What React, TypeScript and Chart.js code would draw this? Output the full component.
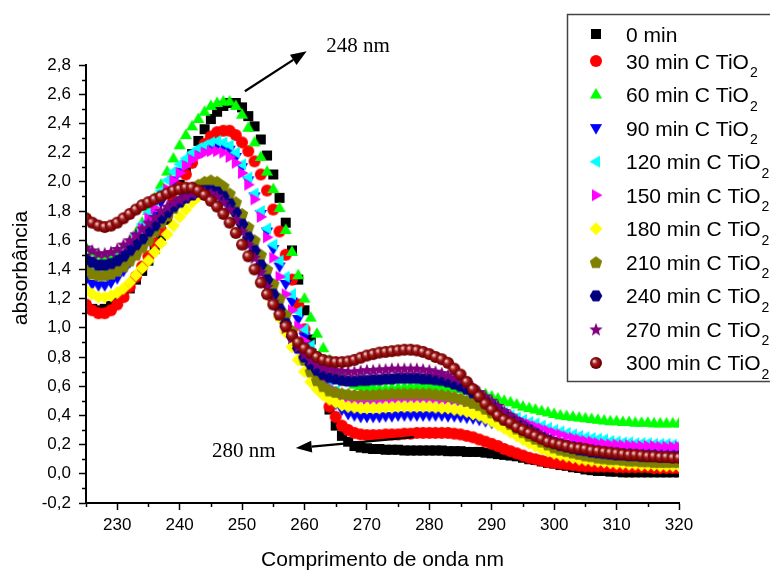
import React, { useEffect, useRef } from "react";
import { Chart, registerables } from "chart.js";
Chart.register(...registerables);

// wavelength (nm)
const wavelengths = [
  225, 226, 227, 228, 229, 230, 231, 232, 233, 234, 235, 236, 237, 238, 239, 240, 241, 242, 243, 244,
  245, 246, 247, 248, 249, 250, 251, 252, 253, 254, 255, 256, 257, 258, 259, 260, 261, 262, 263, 264,
  265, 266, 267, 268, 269, 270, 271, 272, 273, 274, 275, 276, 277, 278, 279, 280, 281, 282, 283, 284,
  285, 286, 287, 288, 289, 290, 291, 292, 293, 294, 295, 296, 297, 298, 299, 300, 301, 302, 303, 304,
  305, 306, 307, 308, 309, 310, 311, 312, 313, 314, 315, 316, 317, 318, 319, 320,
];

const abs0min = [
  1.15, 1.13, 1.12, 1.13, 1.15, 1.18, 1.22, 1.27, 1.33, 1.39, 1.46, 1.54, 1.63, 1.74, 1.86, 1.98, 2.09, 2.19, 2.28, 2.36,
  2.43, 2.48, 2.52, 2.54, 2.54, 2.51, 2.45, 2.38, 2.29, 2.18, 2.05, 1.89, 1.72, 1.53, 1.33, 1.12, 0.92, 0.74, 0.57, 0.44,
  0.33, 0.26, 0.22, 0.19, 0.18, 0.175, 0.17, 0.17, 0.165, 0.165, 0.165, 0.16, 0.16, 0.16, 0.16, 0.16, 0.16, 0.16, 0.155, 0.155,
  0.155, 0.15, 0.15, 0.15, 0.145, 0.14, 0.135, 0.13, 0.125, 0.12, 0.11, 0.1, 0.095, 0.085, 0.075, 0.07, 0.06, 0.055, 0.045, 0.04,
  0.03, 0.025, 0.02, 0.02, 0.015, 0.015, 0.01, 0.01, 0.01, 0.01, 0.01, 0.01, 0.01, 0.01, 0.01, 0.01,
];
const abs30min = [
  1.16, 1.12, 1.1, 1.1, 1.12, 1.16, 1.21, 1.28, 1.35, 1.42, 1.49, 1.58, 1.67, 1.77, 1.87, 1.96, 2.05, 2.13, 2.2, 2.26,
  2.31, 2.34, 2.35, 2.35, 2.32, 2.27, 2.21, 2.14, 2.05, 1.94, 1.81, 1.66, 1.5, 1.33, 1.16, 0.99, 0.83, 0.68, 0.56, 0.46,
  0.39, 0.33, 0.3, 0.28, 0.27, 0.265, 0.265, 0.265, 0.27, 0.27, 0.27, 0.275, 0.275, 0.28, 0.28, 0.28, 0.28, 0.28, 0.28, 0.275,
  0.27, 0.26, 0.25, 0.235, 0.22, 0.205, 0.19, 0.17, 0.155, 0.14, 0.125, 0.11, 0.1, 0.09, 0.08, 0.075, 0.07, 0.065, 0.06, 0.055,
  0.05, 0.05, 0.05, 0.05, 0.05, 0.045, 0.045, 0.045, 0.045, 0.045, 0.045, 0.04, 0.04, 0.04, 0.04, 0.04,
];
const abs60min = [
  1.55, 1.52, 1.5, 1.49, 1.5, 1.52, 1.55, 1.59, 1.65, 1.72, 1.8, 1.89, 1.98, 2.07, 2.16, 2.25, 2.32, 2.38, 2.43, 2.48,
  2.52, 2.54, 2.55, 2.55, 2.52, 2.46, 2.37, 2.27, 2.17, 2.07, 1.95, 1.82, 1.67, 1.52, 1.36, 1.2, 1.07, 0.96, 0.86, 0.78,
  0.71, 0.66, 0.63, 0.61, 0.6, 0.59, 0.59, 0.585, 0.585, 0.59, 0.59, 0.595, 0.6, 0.6, 0.6, 0.6, 0.6, 0.595, 0.59, 0.585,
  0.58, 0.57, 0.565, 0.555, 0.545, 0.53, 0.515, 0.5, 0.49, 0.475, 0.46, 0.45, 0.44, 0.43, 0.42, 0.41, 0.4, 0.395, 0.39, 0.385,
  0.38, 0.375, 0.37, 0.365, 0.36, 0.36, 0.355, 0.355, 0.35, 0.35, 0.35, 0.345, 0.345, 0.345, 0.345, 0.345,
];
const abs90min = [
  1.33, 1.3, 1.29, 1.29, 1.31, 1.34, 1.39, 1.45, 1.52, 1.6, 1.68, 1.77, 1.86, 1.94, 2.01, 2.07, 2.12, 2.16, 2.2, 2.22,
  2.24, 2.25, 2.24, 2.22, 2.17, 2.1, 2.01, 1.9, 1.78, 1.66, 1.54, 1.42, 1.3, 1.18, 1.06, 0.94, 0.83, 0.72, 0.62, 0.54,
  0.48, 0.44, 0.41, 0.4, 0.39, 0.39, 0.39, 0.39, 0.395, 0.395, 0.4, 0.4, 0.4, 0.4, 0.4, 0.4, 0.4, 0.4, 0.395, 0.395,
  0.39, 0.385, 0.38, 0.37, 0.36, 0.35, 0.34, 0.325, 0.31, 0.295, 0.28, 0.27, 0.26, 0.245, 0.235, 0.225, 0.215, 0.205, 0.2, 0.195,
  0.19, 0.185, 0.18, 0.175, 0.175, 0.17, 0.17, 0.165, 0.165, 0.165, 0.165, 0.16, 0.16, 0.16, 0.16, 0.16,
];
const abs120min = [
  1.45, 1.42, 1.41, 1.41, 1.43, 1.46, 1.51, 1.57, 1.64, 1.71, 1.79, 1.87, 1.94, 2.01, 2.07, 2.12, 2.16, 2.2, 2.23, 2.25,
  2.27, 2.28, 2.27, 2.25, 2.2, 2.12, 2.03, 1.92, 1.8, 1.68, 1.57, 1.46, 1.35, 1.23, 1.11, 0.99, 0.88, 0.78, 0.69, 0.62,
  0.57, 0.54, 0.525, 0.52, 0.515, 0.515, 0.515, 0.515, 0.52, 0.52, 0.52, 0.52, 0.52, 0.52, 0.52, 0.52, 0.515, 0.515, 0.51, 0.505,
  0.5, 0.495, 0.49, 0.48, 0.465, 0.45, 0.435, 0.42, 0.4, 0.385, 0.37, 0.355, 0.345, 0.33, 0.315, 0.3, 0.29, 0.28, 0.27, 0.26,
  0.25, 0.245, 0.24, 0.235, 0.225, 0.22, 0.215, 0.215, 0.21, 0.21, 0.21, 0.205, 0.205, 0.205, 0.2, 0.2,
];
const abs150min = [
  1.47, 1.45, 1.43, 1.43, 1.44, 1.47, 1.51, 1.56, 1.62, 1.68, 1.75, 1.82, 1.89, 1.95, 2.01, 2.06, 2.11, 2.15, 2.18, 2.2,
  2.21, 2.21, 2.2, 2.17, 2.13, 2.06, 1.98, 1.88, 1.76, 1.62, 1.48, 1.35, 1.23, 1.12, 1.01, 0.91, 0.82, 0.73, 0.65, 0.59,
  0.55, 0.53, 0.515, 0.51, 0.51, 0.51, 0.51, 0.51, 0.515, 0.515, 0.52, 0.52, 0.52, 0.52, 0.52, 0.515, 0.515, 0.51, 0.51, 0.505,
  0.5, 0.49, 0.48, 0.47, 0.455, 0.44, 0.42, 0.405, 0.39, 0.37, 0.355, 0.34, 0.325, 0.31, 0.295, 0.28, 0.27, 0.255, 0.245, 0.235,
  0.225, 0.22, 0.21, 0.205, 0.2, 0.2, 0.195, 0.195, 0.19, 0.19, 0.19, 0.19, 0.185, 0.185, 0.185, 0.185,
];
const abs180min = [
  1.26, 1.23, 1.21, 1.21, 1.22, 1.24, 1.27, 1.31, 1.36, 1.41, 1.46, 1.52, 1.58, 1.64, 1.7, 1.76, 1.81, 1.86, 1.9, 1.92,
  1.93, 1.92, 1.89, 1.85, 1.78, 1.7, 1.61, 1.51, 1.4, 1.29, 1.18, 1.07, 0.97, 0.87, 0.78, 0.7, 0.63, 0.58, 0.54, 0.51,
  0.49, 0.47, 0.46, 0.455, 0.45, 0.45, 0.45, 0.45, 0.455, 0.455, 0.46, 0.46, 0.46, 0.46, 0.46, 0.46, 0.455, 0.45, 0.45, 0.44,
  0.435, 0.425, 0.41, 0.4, 0.38, 0.36, 0.335, 0.31, 0.285, 0.26, 0.235, 0.21, 0.19, 0.17, 0.155, 0.14, 0.13, 0.12, 0.11, 0.1,
  0.095, 0.09, 0.085, 0.08, 0.075, 0.07, 0.07, 0.065, 0.065, 0.06, 0.06, 0.06, 0.055, 0.055, 0.055, 0.055,
];
const abs210min = [
  1.4, 1.37, 1.36, 1.36, 1.37, 1.39, 1.42, 1.46, 1.5, 1.55, 1.6, 1.66, 1.72, 1.77, 1.82, 1.87, 1.91, 1.95, 1.98, 2.0,
  2.01, 2.0, 1.97, 1.92, 1.86, 1.78, 1.69, 1.6, 1.5, 1.4, 1.3, 1.2, 1.09, 0.98, 0.88, 0.78, 0.7, 0.64, 0.6, 0.57,
  0.56, 0.55, 0.545, 0.54, 0.54, 0.54, 0.54, 0.545, 0.545, 0.55, 0.55, 0.55, 0.55, 0.55, 0.55, 0.55, 0.545, 0.54, 0.535, 0.525,
  0.515, 0.5, 0.485, 0.47, 0.445, 0.42, 0.395, 0.37, 0.34, 0.31, 0.285, 0.26, 0.24, 0.22, 0.2, 0.18, 0.165, 0.155, 0.145, 0.135,
  0.125, 0.12, 0.11, 0.105, 0.1, 0.1, 0.095, 0.09, 0.09, 0.085, 0.085, 0.08, 0.08, 0.08, 0.08, 0.08,
];
const abs240min = [
  1.47, 1.45, 1.43, 1.43, 1.44, 1.46, 1.49, 1.53, 1.57, 1.61, 1.66, 1.7, 1.75, 1.79, 1.83, 1.86, 1.89, 1.91, 1.93, 1.94,
  1.94, 1.93, 1.9, 1.85, 1.79, 1.71, 1.62, 1.53, 1.43, 1.33, 1.23, 1.13, 1.03, 0.94, 0.86, 0.8, 0.75, 0.71, 0.68, 0.66,
  0.65, 0.64, 0.635, 0.635, 0.64, 0.64, 0.645, 0.645, 0.65, 0.65, 0.655, 0.655, 0.655, 0.655, 0.65, 0.65, 0.645, 0.64, 0.63, 0.615,
  0.6, 0.58, 0.555, 0.53, 0.5, 0.47, 0.44, 0.41, 0.38, 0.35, 0.325, 0.3, 0.275, 0.25, 0.23, 0.21, 0.195, 0.185, 0.175, 0.165,
  0.16, 0.15, 0.145, 0.14, 0.135, 0.13, 0.13, 0.125, 0.125, 0.12, 0.12, 0.12, 0.115, 0.115, 0.115, 0.115,
];
const abs270min = [
  1.55, 1.53, 1.51, 1.51, 1.52, 1.54, 1.57, 1.6, 1.64, 1.68, 1.72, 1.76, 1.8, 1.83, 1.86, 1.88, 1.9, 1.92, 1.93, 1.93,
  1.92, 1.9, 1.86, 1.81, 1.74, 1.66, 1.57, 1.48, 1.38, 1.28, 1.18, 1.09, 1.0, 0.93, 0.87, 0.82, 0.78, 0.75, 0.73, 0.72,
  0.71, 0.705, 0.7, 0.7, 0.705, 0.71, 0.71, 0.715, 0.715, 0.72, 0.72, 0.72, 0.72, 0.72, 0.715, 0.71, 0.7, 0.69, 0.675, 0.66,
  0.645, 0.62, 0.59, 0.56, 0.53, 0.5, 0.465, 0.43, 0.4, 0.37, 0.34, 0.31, 0.285, 0.26, 0.24, 0.22, 0.205, 0.19, 0.18, 0.175,
  0.17, 0.16, 0.155, 0.15, 0.145, 0.14, 0.135, 0.135, 0.13, 0.13, 0.125, 0.125, 0.125, 0.12, 0.12, 0.12,
];
const abs300min = [
  1.75, 1.72, 1.7, 1.69, 1.7, 1.72, 1.75, 1.78, 1.81, 1.84, 1.86, 1.88, 1.9, 1.92, 1.94, 1.95, 1.96, 1.96, 1.94, 1.91,
  1.87, 1.83, 1.78, 1.72, 1.65, 1.57, 1.49, 1.4, 1.31, 1.23, 1.16, 1.09, 1.01, 0.95, 0.9, 0.86, 0.83, 0.8, 0.78, 0.77,
  0.765, 0.765, 0.77, 0.78, 0.795, 0.81, 0.82, 0.83, 0.835, 0.84, 0.845, 0.85, 0.85, 0.845, 0.835, 0.82, 0.8, 0.785, 0.76, 0.72,
  0.68, 0.63, 0.58, 0.53, 0.48, 0.44, 0.4, 0.37, 0.35, 0.32, 0.3, 0.28, 0.26, 0.24, 0.22, 0.21, 0.2, 0.19, 0.18, 0.175,
  0.17, 0.16, 0.155, 0.15, 0.145, 0.14, 0.135, 0.13, 0.13, 0.125, 0.12, 0.12, 0.115, 0.115, 0.11, 0.11,
];

const seriesValues = [abs0min, abs30min, abs60min, abs90min, abs120min, abs150min, abs180min, abs210min, abs240min, abs270min, abs300min];
const seriesNames = [
  "0 min", "30 min C TiO", "60 min C TiO", "90 min C TiO", "120 min C TiO", "150 min C TiO",
  "180 min C TiO", "210 min C TiO", "240 min C TiO", "270 min C TiO", "300 min C TiO",
];
const seriesSubscripts = ["", "2", "2", "2", "2", "2", "2", "2", "2", "2", "2"];
const seriesColors = [
  "#000000", "#ff0000", "#00ff00", "#0000ff", "#00ffff", "#ff00ff",
  "#ffff00", "#808000", "#000080", "#800080", "#800000",
];
const seriesMarkers = [
  "square", "circle", "triUp", "triDown", "triLeft", "triRight",
  "diamond", "pentagon", "hexagon", "star", "sphere",
];

const xMajorTicks = [230, 240, 250, 260, 270, 280, 290, 300, 310, 320];
const xMinorTicks = [225, 235, 245, 255, 265, 275, 285, 295, 305, 315];
const yMajorTicks = [-0.2, 0, 0.2, 0.4, 0.6, 0.8, 1.0, 1.2, 1.4, 1.6, 1.8, 2.0, 2.2, 2.4, 2.6, 2.8];
const yMinorTicks = [-0.1, 0.1, 0.3, 0.5, 0.7, 0.9, 1.1, 1.3, 1.5, 1.7, 1.9, 2.1, 2.3, 2.5, 2.7];

const xTitle = "Comprimento de onda nm";
const yTitle = "absorbância";
const peakLabels = ["248 nm", "280 nm"];

const SANS = "'Liberation Sans', Arial, sans-serif";
const SERIF = "'Liberation Serif', 'Times New Roman', serif";

function polygon(g: CanvasRenderingContext2D, cx: number, cy: number, r: number, n: number, startDeg: number) {
  for (let i = 0; i < n; i++) {
    const a = ((startDeg + (360 / n) * i) * Math.PI) / 180;
    const px = cx + r * Math.cos(a);
    const py = cy + r * Math.sin(a);
    if (i === 0) g.moveTo(px, py);
    else g.lineTo(px, py);
  }
  g.closePath();
}

function makeMarker(kind: string, color: string): HTMLCanvasElement {
  const s = 16;
  const c = document.createElement("canvas");
  c.width = s;
  c.height = s;
  const g = c.getContext("2d") as CanvasRenderingContext2D;
  const cx = s / 2;
  const cy = s / 2;
  g.fillStyle = color;
  g.beginPath();
  switch (kind) {
    case "square":
      g.rect(cx - 5, cy - 5, 10, 10);
      break;
    case "circle":
      g.arc(cx, cy, 6, 0, Math.PI * 2);
      break;
    case "triUp":
      polygon(g, cx, cy + 0.5, 7, 3, -90);
      break;
    case "triDown":
      polygon(g, cx, cy - 0.5, 7, 3, 90);
      break;
    case "triLeft":
      polygon(g, cx + 0.5, cy, 7, 3, 180);
      break;
    case "triRight":
      polygon(g, cx - 0.5, cy, 7, 3, 0);
      break;
    case "diamond":
      polygon(g, cx, cy, 6.5, 4, 0);
      break;
    case "pentagon":
      polygon(g, cx, cy + 0.5, 6.5, 5, -90);
      break;
    case "hexagon":
      polygon(g, cx, cy, 6.3, 6, 0);
      break;
    case "star": {
      for (let i = 0; i < 10; i++) {
        const r = i % 2 === 0 ? 7 : 3;
        const a = ((-90 + 36 * i) * Math.PI) / 180;
        const px = cx + r * Math.cos(a);
        const py = cy + 0.5 + r * Math.sin(a);
        if (i === 0) g.moveTo(px, py);
        else g.lineTo(px, py);
      }
      g.closePath();
      break;
    }
    case "sphere": {
      const grad = g.createRadialGradient(cx - 2, cy - 2, 0.5, cx, cy, 6.5);
      grad.addColorStop(0, "#f0c8c8");
      grad.addColorStop(0.35, "#a02020");
      grad.addColorStop(0.75, "#800000");
      grad.addColorStop(1, "#500000");
      g.fillStyle = grad;
      g.arc(cx, cy, 6, 0, Math.PI * 2);
      break;
    }
  }
  g.fill();
  return c;
}

export default function App() {
  const canvasRef = useRef<HTMLCanvasElement | null>(null);

  useEffect(() => {
    const canvas = canvasRef.current;
    if (!canvas) return;
    const markers = seriesMarkers.map((m, i) => makeMarker(m, seriesColors[i]));

    const datasets = seriesValues.map((vals, i) => ({
      label: seriesNames[i] + seriesSubscripts[i],
      data: vals.map((v, k) => ({ x: wavelengths[k], y: v })),
      showLine: false,
      pointStyle: markers[i],
      pointRadius: 6,
      pointHoverRadius: 6,
      backgroundColor: seriesColors[i],
      borderColor: seriesColors[i],
      order: seriesValues.length - i,
      clip: { left: -1, top: 0, right: 0, bottom: -1 },
    }));

    const overlay = {
      id: "overlay",
      afterDraw(chart: any) {
        const ctx: CanvasRenderingContext2D = chart.ctx;
        const xs = chart.scales.x;
        const ys = chart.scales.y;
        const ca = chart.chartArea;
        ctx.save();
        // minor ticks
        ctx.strokeStyle = "#000";
        ctx.lineWidth = 1.5;
        xMinorTicks.forEach((v) => {
          const px = Math.round(xs.getPixelForValue(v)) + 0.5;
          ctx.beginPath();
          ctx.moveTo(px, ca.bottom);
          ctx.lineTo(px, ca.bottom + 4);
          ctx.stroke();
        });
        yMinorTicks.forEach((v) => {
          const py = Math.round(ys.getPixelForValue(v)) + 0.5;
          ctx.beginPath();
          ctx.moveTo(ca.left - 4, py);
          ctx.lineTo(ca.left, py);
          ctx.stroke();
        });

        // axis titles
        ctx.fillStyle = "#000";
        ctx.font = `21px ${SANS}`;
        ctx.textAlign = "center";
        ctx.textBaseline = "alphabetic";
        ctx.fillText(xTitle, (ca.left + ca.right) / 2, 566);
        ctx.save();
        ctx.translate(27, 268);
        ctx.rotate(-Math.PI / 2);
        ctx.fillText(yTitle, 0, 0);
        ctx.restore();

        // annotations with arrows
        const arrow = (x1: number, y1: number, x2: number, y2: number) => {
          const ang = Math.atan2(y2 - y1, x2 - x1);
          const hl = 16;
          const hw = 6;
          const bx = x2 - hl * Math.cos(ang);
          const by = y2 - hl * Math.sin(ang);
          ctx.strokeStyle = "#000";
          ctx.lineWidth = 2.2;
          ctx.beginPath();
          ctx.moveTo(x1, y1);
          ctx.lineTo(bx, by);
          ctx.stroke();
          ctx.fillStyle = "#000";
          ctx.beginPath();
          ctx.moveTo(x2, y2);
          ctx.lineTo(bx + hw * Math.sin(ang), by - hw * Math.cos(ang));
          ctx.lineTo(bx - hw * Math.sin(ang), by + hw * Math.cos(ang));
          ctx.closePath();
          ctx.fill();
        };
        arrow(xs.getPixelForValue(250.45), ys.getPixelForValue(2.62), xs.getPixelForValue(260.35), ys.getPixelForValue(2.895));
        arrow(xs.getPixelForValue(277.55), ys.getPixelForValue(0.251), xs.getPixelForValue(258.6), ys.getPixelForValue(0.176));
        ctx.font = `21px ${SERIF}`;
        ctx.textAlign = "left";
        ctx.fillStyle = "#000";
        ctx.fillText(peakLabels[0], xs.getPixelForValue(263.5), ys.getPixelForValue(2.89));
        ctx.fillText(peakLabels[1], xs.getPixelForValue(245.2), ys.getPixelForValue(0.114));

        // legend box
        ctx.fillStyle = "#fff";
        ctx.fillRect(567.5, 14.5, 240, 367);
        ctx.strokeStyle = "#444";
        ctx.lineWidth = 1.5;
        ctx.strokeRect(567.5, 14.5, 240, 367);
        seriesNames.forEach((name, i) => {
          const cy = i === 0 ? 34 : 61 + (i - 1) * 33.55;
          const m = markers[i];
          ctx.drawImage(m, 596 - m.width / 2, cy - m.height / 2);
          ctx.fillStyle = "#000";
          ctx.font = `21px ${SANS}`;
          ctx.textAlign = "left";
          ctx.textBaseline = "alphabetic";
          ctx.fillText(name, 626, cy + 7.5);
          if (seriesSubscripts[i]) {
            const w = ctx.measureText(name).width;
            ctx.font = `14px ${SANS}`;
            ctx.fillText(seriesSubscripts[i], 626 + w + 1, cy + 16);
          }
        });
        ctx.restore();
      },
    };

    const chart = new Chart(canvas, {
      type: "scatter",
      data: { datasets: datasets as any },
      options: {
        responsive: false,
        animation: false,
        devicePixelRatio: 1,
        events: [],
        layout: { padding: { top: 65, right: 91, left: 0, bottom: 0 } },
        plugins: { legend: { display: false }, tooltip: { enabled: false }, title: { display: false } },
        scales: {
          x: {
            type: "linear",
            min: 225,
            max: 320,
            afterBuildTicks: (s: any) => {
              s.ticks = xMajorTicks.map((v) => ({ value: v }));
            },
            afterFit: (s: any) => {
              s.height = 67;
            },
            grid: { display: true, drawOnChartArea: false, drawTicks: true, tickLength: 7, tickWidth: 1.5, tickColor: "#000" },
            border: { display: true, color: "#000", width: 2 },
            ticks: {
              color: "#000",
              font: { family: SANS, size: 17 },
              padding: 5,
              maxRotation: 0,
              autoSkip: false,
              callback: (v: any) => String(v),
            },
            title: { display: false },
          },
          y: {
            type: "linear",
            min: -0.2,
            max: 2.8,
            afterBuildTicks: (s: any) => {
              s.ticks = yMajorTicks.map((v) => ({ value: v }));
            },
            afterFit: (s: any) => {
              s.width = 86;
            },
            grid: { display: true, drawOnChartArea: false, drawTicks: true, tickLength: 7, tickWidth: 1.5, tickColor: "#000" },
            border: { display: true, color: "#000", width: 2 },
            ticks: {
              color: "#000",
              font: { family: SANS, size: 17 },
              padding: 8,
              autoSkip: false,
              callback: (v: any) => Number(v).toFixed(1).replace(".", ","),
            },
            title: { display: false },
          },
        },
      },
      plugins: [overlay],
    } as any);

    return () => {
      chart.destroy();
    };
  }, []);

  return (
    <div style={{ position: "absolute", left: 0, top: 0, width: 770, height: 570, background: "#fff" }}>
      <canvas ref={canvasRef} width={770} height={570} style={{ display: "block" }} />
    </div>
  );
}
